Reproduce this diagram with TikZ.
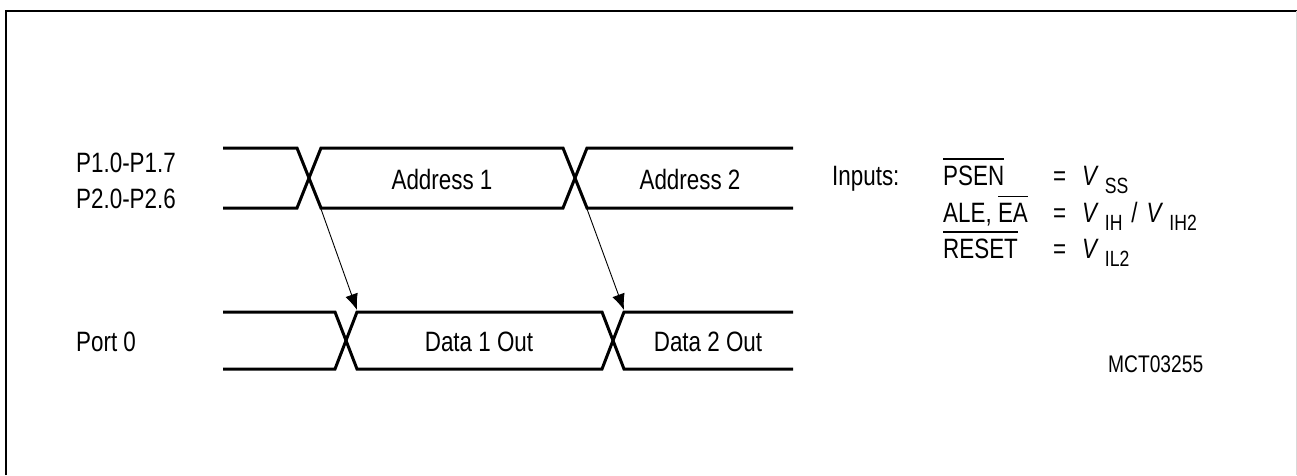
\documentclass[tikz,border=0pt]{standalone}
\usepackage{fontspec}
\setmainfont{Liberation Sans}[FakeStretch=0.8]
\usetikzlibrary{arrows.meta}
\newcommand\ovl[1]{\vbox{\hrule height 1.6pt\kern 5.5pt\hbox{#1}}}
\newcommand\sbs[1]{\raisebox{-8pt}{\fontsize{22}{22}\selectfont #1}}
\begin{document}
\begin{tikzpicture}[x=1pt,y=-1pt,
  bus/.style={line width=3pt, line join=miter},
  lbl/.style={inner sep=0pt, font=\fontsize{28}{28}\selectfont},
  arr/.style={line width=0.9pt, -{Latex[length=16pt,width=13pt]}},
  frame/.style={line width=2.5pt}]
\useasboundingbox (0,0) rectangle (1297,475);
\draw[frame] (6,475) -- (6,11) -- (1297,11);
\draw[black!15, line width=1pt] (1296.5,11) -- (1296.5,475);
% top bus
\draw[bus] (223,148) -- (297,148) -- (321,208) -- (563,208) -- (587,148) -- (793,148);
\draw[bus] (223,208) -- (297,208) -- (321,148) -- (563,148) -- (587,208) -- (793,208);
% bottom bus
\draw[bus] (223,312) -- (335,312) -- (357,369) -- (602,369) -- (624,312) -- (793,312);
\draw[bus] (223,369) -- (335,369) -- (357,312) -- (602,312) -- (624,369) -- (793,369);
% arrow end points
\coordinate (x1b) at (321,209);
\coordinate (x2b) at (587,209);
\coordinate (y1t) at (357,310);
\coordinate (y2t) at (624,310);
\draw[arr] (x1b) -- (y1t);
\draw[arr] (x2b) -- (y2t);
% bus labels
\node[lbl] (a1) at (442,179) {Address 1};
\node[lbl] (a2) at (690,179) {Address 2};
\node[lbl] (d1) at (479,342) {Data 1 Out};
\node[lbl] (d2) at (708,342) {Data 2 Out};
% signal names
\node[lbl, anchor=base west] (p1) at (76,172) {P1.0-P1.7};
\node[lbl, anchor=base west] (p2) at (76,208) {P2.0-P2.6};
\node[lbl, anchor=base west] (p0) at (76,351) {Port 0};
% inputs block
\node[lbl, anchor=base west] (inp) at (832,185) {Inputs:};
\node[lbl, anchor=base west] (psen) at (943,185) {\ovl{PSEN}};
\node[lbl, anchor=base west] (ale) at (943,222) {ALE, \ovl{EA}};
\node[lbl, anchor=base west] (rst) at (943,258) {\ovl{RESET}};
\node[lbl, anchor=base west] (e1) at (1053,185) {=};
\node[lbl, anchor=base west] (e2) at (1053,222) {=};
\node[lbl, anchor=base west] (e3) at (1053,258) {=};
\node[lbl, anchor=base west] (v1) at (1082,185) {\textit{V}\hspace{6pt}\sbs{SS}};
\node[lbl, anchor=base west] (v2) at (1082,222) {\textit{V}\hspace{6pt}\sbs{IH}\hspace{9pt}/\hspace{9pt}\textit{V}\hspace{6pt}\sbs{IH2}};
\node[lbl, anchor=base west] (v3) at (1082,258) {\textit{V}\hspace{6pt}\sbs{IL2}};
\node[lbl, anchor=base west, font=\fontsize{24}{24}\selectfont] (id) at (1108,372) {MCT03255};
\end{tikzpicture}
\end{document}
